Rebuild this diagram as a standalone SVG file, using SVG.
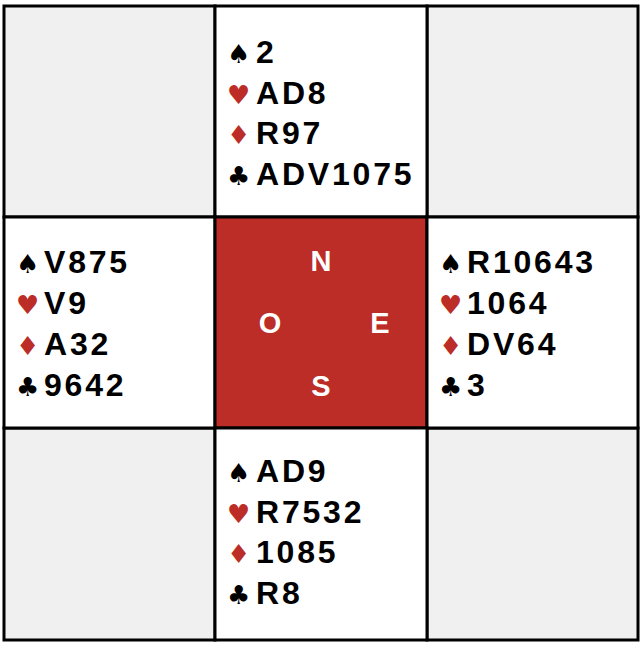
<svg xmlns="http://www.w3.org/2000/svg" width="644" height="646" viewBox="0 0 644 646">
<style>
.cell{stroke:#000;stroke-width:3}
.empty{fill:#f0f0f0}
.hand{fill:#fff}
.table{fill:#bb2d26}
.card{font-family:"Liberation Sans",Arial,sans-serif;font-weight:bold;font-size:32px;letter-spacing:2.8px;fill:#000}
.suit{font-family:"DejaVu Sans",sans-serif;font-size:26px}
.blk{fill:#000}
.red{fill:#bb2d26}
.dir{font-family:"Liberation Sans",Arial,sans-serif;font-weight:bold;font-size:29px;fill:#fff;text-anchor:middle}
</style>
<rect width="644" height="646" fill="#fff"/>
<g id="grid">
<rect class="cell empty" x="4" y="6" width="211" height="211"/>
<rect class="cell empty" x="427" y="6" width="211" height="211"/>
<rect class="cell empty" x="4" y="428" width="211" height="212"/>
<rect class="cell empty" x="427" y="428" width="211" height="212"/>
</g>
<g id="north">
<rect class="cell hand" x="215" y="6" width="212" height="211"/>
<text class="suit blk" x="227" y="63">♠</text><text class="card" x="256" y="63">2</text>
<text class="suit red" x="227" y="103.5">♥</text><text class="card" x="256" y="103.5">AD8</text>
<text class="suit red" x="227" y="144">♦</text><text class="card" x="256" y="144">R97</text>
<text class="suit blk" x="227" y="184.5">♣</text><text class="card" x="256" y="184.5">ADV1075</text>
</g>
<g id="west">
<rect class="cell hand" x="4" y="217" width="211" height="211"/>
<text class="suit blk" x="16" y="273">♠</text><text class="card" x="44" y="273">V875</text>
<text class="suit red" x="16" y="314">♥</text><text class="card" x="44" y="314">V9</text>
<text class="suit red" x="16" y="355">♦</text><text class="card" x="44" y="355">A32</text>
<text class="suit blk" x="16" y="396">♣</text><text class="card" x="44" y="396">9642</text>
</g>
<g id="table">
<rect class="cell table" x="215" y="217" width="212" height="211"/>
<text class="dir" x="321" y="271">N</text>
<text class="dir" x="270" y="333">O</text>
<text class="dir" x="380" y="333">E</text>
<text class="dir" x="321" y="396">S</text>
</g>
<g id="east">
<rect class="cell hand" x="427" y="217" width="211" height="211"/>
<text class="suit blk" x="439" y="273">♠</text><text class="card" x="467" y="273">R10643</text>
<text class="suit red" x="439" y="314">♥</text><text class="card" x="467" y="314">1064</text>
<text class="suit red" x="439" y="355">♦</text><text class="card" x="467" y="355">DV64</text>
<text class="suit blk" x="439" y="396">♣</text><text class="card" x="467" y="396">3</text>
</g>
<g id="south">
<rect class="cell hand" x="215" y="428" width="212" height="212"/>
<text class="suit blk" x="227" y="482">♠</text><text class="card" x="256" y="482">AD9</text>
<text class="suit red" x="227" y="523">♥</text><text class="card" x="256" y="523">R7532</text>
<text class="suit red" x="227" y="563">♦</text><text class="card" x="256" y="563">1085</text>
<text class="suit blk" x="227" y="604">♣</text><text class="card" x="256" y="604">R8</text>
</g>
<g id="connectors"/>
</svg>
